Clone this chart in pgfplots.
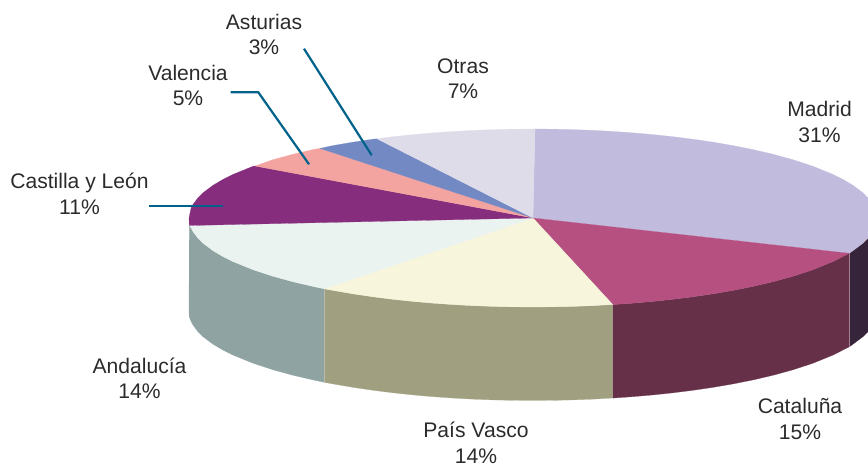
\documentclass[border=0pt]{standalone}
\usepackage{fontspec}
\setmainfont{Liberation Sans}
\usepackage{pgfplots}
\pgfplotsset{compat=1.18}
\definecolor{cMad}{HTML}{C1BBDD}\definecolor{wMad}{HTML}{35243A}
\definecolor{cCat}{HTML}{B65081}\definecolor{wCat}{HTML}{663049}
\definecolor{cPai}{HTML}{F7F5DC}\definecolor{wPai}{HTML}{A0A080}
\definecolor{cAnd}{HTML}{EBF3F0}\definecolor{wAnd}{HTML}{8EA3A2}
\definecolor{cCyL}{HTML}{862D7D}\definecolor{cVal}{HTML}{F3A4A0}
\definecolor{cAst}{HTML}{7289C4}\definecolor{cOtr}{HTML}{DEDCE9}
\definecolor{lead}{HTML}{00628B}\definecolor{txt}{HTML}{2B2B2B}
\tikzset{lab/.style={font=\fontsize{21.1}{25.5}\selectfont,text=txt,align=center,inner sep=0pt}}
\begin{document}
\begin{tikzpicture}
\useasboundingbox (0,0) rectangle (868pt,465pt);
\begin{axis}[at={(0,0)},anchor=south west,scale only axis,width=868pt,height=465pt,hide axis,
  xmin=0,xmax=868,ymin=0,ymax=465,y dir=reverse,clip=true]
% side walls
\addplot[fill=wMad,draw=wMad,line width=.2pt] coordinates {(849.3,253.3)(853,250.66)(863,243.13)(868,238.23)(873,231.53)(873,325.03)(868,331.73)(863,336.63)(853,344.16)(849.3,346.8)} --cycle;
\addplot[fill=wCat,draw=wCat,line width=.2pt] coordinates {(612.7,304.5)(613,304.56)(633,303.16)(653,301.41)(673,299.3)(693,296.79)(713,293.84)(733,290.41)(753,286.42)(773,281.76)(793,276.28)(813,269.7)(833,261.55)(849.3,253.3)(849.3,346.8)(833,355.05)(813,363.2)(793,369.78)(773,375.26)(753,379.92)(733,383.91)(713,387.34)(693,390.29)(673,392.8)(653,394.91)(633,396.66)(613,398.06)(612.7,398)} --cycle;
\addplot[fill=wPai,draw=wPai,line width=.2pt] coordinates {(324.3,288.8)(333,290.41)(353,293.84)(373,296.79)(393,299.3)(413,301.41)(433,303.16)(453,304.56)(473,305.64)(493,306.4)(513,306.85)(533,307)(553,306.85)(573,306.4)(593,305.64)(612.7,304.5)(612.7,398)(593,399.14)(573,399.9)(553,400.35)(533,400.5)(513,400.35)(493,399.9)(473,399.14)(453,398.06)(433,396.66)(413,394.91)(393,392.8)(373,390.29)(353,387.34)(333,383.91)(324.3,382.3)} --cycle;
\addplot[fill=wAnd,draw=wAnd,line width=.2pt] coordinates {(189.3,225.5)(191,227.59)(193,231.53)(198,238.23)(203,243.13)(213,250.66)(223,256.58)(233,261.55)(253,269.7)(273,276.28)(293,281.76)(313,286.42)(324.3,288.8)(324.3,382.3)(313,379.92)(293,375.26)(273,369.78)(253,363.2)(233,355.05)(223,350.08)(213,344.16)(203,336.63)(198,331.73)(193,325.03)(191,321.09)(189.3,317)(189,311.5)} --cycle;
\addplot[color=black!12!wPai!60!white,line width=.7pt] coordinates {(324.3,288.8)(324.3,382.3)};
\addplot[color=wCat!60!white,line width=.6pt] coordinates {(849.3,253.3)(849.3,346.8)};
% top surface
\addplot[fill=cMad,draw=cMad,line width=.2pt] coordinates {(533,218)(535,129)(553,129.15)(573,129.6)(593,130.36)(613,131.44)(633,132.84)(653,134.59)(673,136.7)(693,139.21)(713,142.16)(733,145.59)(753,149.58)(773,154.24)(793,159.72)(813,166.3)(833,174.45)(843,179.42)(853,185.34)(863,192.87)(868,197.77)(873,204.47)(875,208.41)(877,218)(875,227.59)(873,231.53)(868,238.23)(863,243.13)(853,250.66)(849.3,253.3)} --cycle;
\addplot[fill=cCat,draw=cCat,line width=.2pt] coordinates {(533,218)(849.3,253.3)(833,261.55)(813,269.7)(793,276.28)(773,281.76)(753,286.42)(733,290.41)(713,293.84)(693,296.79)(673,299.3)(653,301.41)(633,303.16)(613,304.56)(612.7,304.5)} --cycle;
\addplot[fill=cPai,draw=cPai,line width=.2pt] coordinates {(533,218)(612.7,304.5)(593,305.64)(573,306.4)(553,306.85)(533,307)(513,306.85)(493,306.4)(473,305.64)(453,304.56)(433,303.16)(413,301.41)(393,299.3)(373,296.79)(353,293.84)(333,290.41)(324.3,288.8)} --cycle;
\addplot[fill=cAnd,draw=cAnd,line width=.2pt] coordinates {(533,218)(324.3,288.8)(313,286.42)(293,281.76)(273,276.28)(253,269.7)(233,261.55)(223,256.58)(213,250.66)(203,243.13)(198,238.23)(193,231.53)(191,227.59)(189.3,225.5)} --cycle;
\addplot[fill=cCyL,draw=cCyL,line width=.2pt] coordinates {(533,218)(189.3,225.5)(189,218)(191,208.41)(193,204.47)(198,197.77)(203,192.87)(213,185.34)(223,179.42)(233,174.45)(253,166.3)(255,166)} --cycle;
\addplot[fill=cVal,draw=cVal,line width=.2pt] coordinates {(533,218)(255,166)(273,159.72)(293,154.24)(313,149.58)(320,148.4)} --cycle;
\addplot[fill=cAst,draw=cAst,line width=.2pt] coordinates {(533,218)(320,148.4)(333,145.59)(353,142.16)(373,139.21)(377,138.8)} --cycle;
\addplot[fill=cOtr,draw=cOtr,line width=.2pt] coordinates {(533,218)(377,138.8)(393,136.7)(413,134.59)(433,132.84)(453,131.44)(473,130.36)(493,129.6)(513,129.15)(533,129)(535,129)} --cycle;
% leader lines
\addplot[color=lead,line width=2.2pt] coordinates {(304,48.7)(371.7,155.3)};
\addplot[color=lead,line width=2.2pt] coordinates {(230.7,92.3)(258.3,92.3)(309,164.3)};
\addplot[color=lead,line width=2.2pt] coordinates {(149,206)(223.3,206)};
% labels
\node[lab] at (axis cs:264,34.5) {Asturias\\3\%};
\node[lab] at (axis cs:188,85.5) {Valencia\\5\%};
\node[lab] at (axis cs:463,78.5) {Otras\\7\%};
\node[lab] at (axis cs:819.5,122) {Madrid\\31\%};
\node[lab] at (axis cs:79.5,194) {Castilla y León\\11\%};
\node[lab] at (axis cs:139.5,378.5) {Andalucía\\14\%};
\node[lab] at (axis cs:800,419) {Cataluña\\15\%};
\node[lab] at (axis cs:476,443) {País Vasco\\14\%};
\end{axis}
\end{tikzpicture}
\end{document}
